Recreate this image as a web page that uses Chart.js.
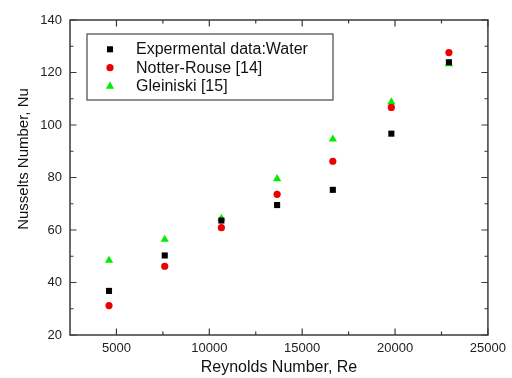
<!DOCTYPE html>
<html>
<head>
<meta charset="utf-8">
<script src="https://cdn.jsdelivr.net/npm/chart.js@4/dist/chart.umd.min.js"></script>
<style>
html,body{margin:0;padding:0;background:#fff;}
#wrap{width:512px;height:378px;position:relative;}
</style>
</head>
<body>
<div id="wrap"><canvas id="c"></canvas></div>
<script>
// ---- data ----
const reynolds = [4600, 7600, 10650, 13650, 16650, 19800, 22900];
const nuExperimental = [36.8, 50.3, 63.6, 69.5, 75.3, 96.7, 123.9];
const nuNotterRouse = [31.2, 46.2, 60.9, 73.6, 86.2, 106.7, 127.6];
const nuGleiniski = [48.4, 56.4, 64.4, 79.5, 94.6, 108.7, 123.3];
const seriesLabels = ['Expermental data:Water', 'Notter-Rouse [14]', 'Gleiniski [15]'];
const xMajorTicks = [5000, 10000, 15000, 20000, 25000];
const xMinorTicks = [7500, 12500, 17500, 22500];
const yMajorTicks = [20, 40, 60, 80, 100, 120, 140];
const yMinorTicks = [30, 50, 70, 90, 110, 130];
const xTitle = 'Reynolds Number, Re';
const yTitle = 'Nusselts Number, Nu';

const FONT = '"Liberation Sans", Arial, sans-serif';
const FRAME = '#3a3a3a';

function pts(ys) { return reynolds.map((x, i) => ({x: x, y: ys[i]})); }

const datasets = [
  {label: seriesLabels[0], data: pts(nuExperimental), pointStyle: 'rect', pointRadius: 4.3,
   backgroundColor: '#000000', borderColor: '#000000', borderWidth: 0},
  {label: seriesLabels[1], data: pts(nuNotterRouse), pointStyle: 'circle', pointRadius: 3.6,
   backgroundColor: '#ee0000', borderColor: '#ee0000', borderWidth: 0},
  {label: seriesLabels[2], data: pts(nuGleiniski), pointStyle: 'triangle', pointRadius: 4.8,
   backgroundColor: '#00ee00', borderColor: '#00ee00', borderWidth: 0}
];

const framePlugin = {
  id: 'frame',
  afterDraw(chart) {
    const ctx = chart.ctx, a = chart.chartArea;
    const xs = chart.scales.x, ys = chart.scales.y;
    ctx.save();
    ctx.strokeStyle = FRAME;
    ctx.lineWidth = 1.5;
    ctx.strokeRect(a.left, a.top, a.right - a.left, a.bottom - a.top);
    ctx.lineWidth = 1.2;
    const tick = (vals, len) => {
      vals.forEach(v => {
        const px = xs.getPixelForValue(v);
        ctx.beginPath();
        ctx.moveTo(px, a.bottom); ctx.lineTo(px, a.bottom - len);
        ctx.moveTo(px, a.top); ctx.lineTo(px, a.top + len);
        ctx.stroke();
      });
    };
    const ytick = (vals, len) => {
      vals.forEach(v => {
        const py = ys.getPixelForValue(v);
        ctx.beginPath();
        ctx.moveTo(a.left, py); ctx.lineTo(a.left + len, py);
        ctx.moveTo(a.right, py); ctx.lineTo(a.right - len, py);
        ctx.stroke();
      });
    };
    tick(xMajorTicks, 6.5); tick(xMinorTicks, 3.5);
    ytick(yMajorTicks, 6.5); ytick(yMinorTicks, 3.5);

    // y-axis title
    ctx.fillStyle = '#111';
    ctx.font = '15px ' + FONT;
    ctx.textAlign = 'center';
    ctx.textBaseline = 'middle';
    ctx.translate(24, 159);
    ctx.rotate(-Math.PI / 2);
    ctx.fillText(yTitle, 0, 0);
    ctx.restore();

    // legend box
    ctx.save();
    const bx = a.left + 17, by = a.top + 14, bw = 246, bh = 66;
    ctx.fillStyle = '#fff';
    ctx.fillRect(bx, by, bw, bh);
    ctx.strokeStyle = '#555';
    ctx.lineWidth = 1.3;
    ctx.strokeRect(bx, by, bw, bh);
    ctx.font = '16px ' + FONT;
    ctx.textAlign = 'left';
    ctx.textBaseline = 'middle';
    const rows = [15.3, 33.7, 52.3];
    chart.data.datasets.forEach((ds, i) => {
      const cy = by + rows[i];
      ctx.fillStyle = ds.backgroundColor;
      ctx.strokeStyle = ds.borderColor;
      Chart.helpers.drawPoint(ctx, {pointStyle: ds.pointStyle, radius: ds.pointRadius, rotation: 0, borderWidth: 0}, bx + 23, cy);
      ctx.fillStyle = '#111';
      ctx.fillText(ds.label, bx + 49, cy + 0.5);
    });
    ctx.restore();
  }
};

new Chart(document.getElementById('c'), {
  type: 'scatter',
  data: {datasets: datasets},
  options: {
    responsive: true,
    maintainAspectRatio: false,
    animation: false,
    layout: {padding: {top: 20, right: 23, left: 0, bottom: 0}},
    plugins: {legend: {display: false}, tooltip: {enabled: false}},
    scales: {
      x: {
        type: 'linear', min: 2500, max: 25000,
        afterBuildTicks: s => { s.ticks = xMajorTicks.map(v => ({value: v})); },
        afterFit: s => { s.height = 43; },
        grid: {display: false, drawTicks: false},
        border: {display: false},
        ticks: {padding: 6, color: '#222', font: {family: FONT, size: 13}, maxRotation: 0,
                callback: v => String(v)},
        title: {display: true, text: xTitle, color: '#111', font: {family: FONT, size: 16},
                padding: {top: 0, bottom: 0.5}}
      },
      y: {
        type: 'linear', min: 20, max: 140,
        afterBuildTicks: s => { s.ticks = yMajorTicks.map(v => ({value: v})); },
        afterFit: s => { s.width = 70; },
        grid: {display: false, drawTicks: false},
        border: {display: false},
        ticks: {padding: 8, color: '#222', font: {family: FONT, size: 13},
                callback: v => String(v)}
      }
    }
  },
  plugins: [framePlugin]
});
</script>
</body>
</html>
